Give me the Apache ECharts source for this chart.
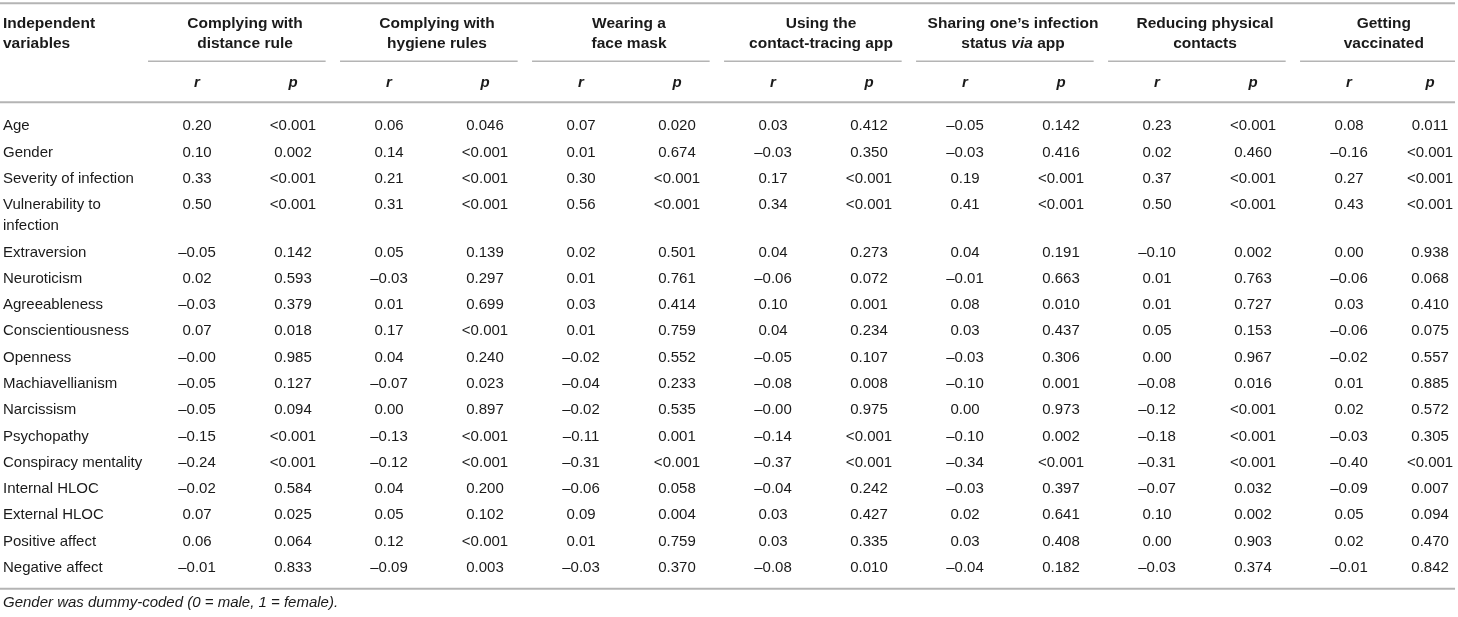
<!DOCTYPE html>
<html>
<head>
<meta charset="utf-8">
<title>Correlations table</title>
<script src="https://cdn.jsdelivr.net/npm/echarts@6/dist/echarts.min.js"></script>
<style>
  html, body { margin: 0; padding: 0; background: #fff; }
  #table { width: 1458px; height: 617px; }
</style>
</head>
<body>
<div id="table"></div>
<script>
// row labels (a "\n" means the label wraps to a second line)
const variables = [
    "Age", "Gender", "Severity of infection", "Vulnerability to\ninfection",
    "Extraversion", "Neuroticism", "Agreeableness", "Conscientiousness", "Openness",
    "Machiavellianism", "Narcissism", "Psychopathy", "Conspiracy mentality",
    "Internal HLOC", "External HLOC", "Positive affect", "Negative affect"
];
const outcomes = [
    "Complying with\ndistance rule", "Complying with\nhygiene rules", "Wearing a\nface mask",
    "Using the\ncontact-tracing app", "Sharing one\u2019s infection\nstatus {v|via} app",
    "Reducing physical\ncontacts", "Getting\nvaccinated"
];
const subHeads = ["r", "p"];
const firstHead = "Independent\nvariables";
const footnote = "Gender was dummy-coded (0 = male, 1 = female).";

// r and p for each outcome, one entry per variable
const distanceR = ["0.20", "0.10", "0.33", "0.50", "\u20130.05", "0.02", "\u20130.03", "0.07", "\u20130.00", "\u20130.05", "\u20130.05", "\u20130.15", "\u20130.24", "\u20130.02", "0.07", "0.06", "\u20130.01"];
const distanceP = ["<0.001", "0.002", "<0.001", "<0.001", "0.142", "0.593", "0.379", "0.018", "0.985", "0.127", "0.094", "<0.001", "<0.001", "0.584", "0.025", "0.064", "0.833"];
const hygieneR = ["0.06", "0.14", "0.21", "0.31", "0.05", "\u20130.03", "0.01", "0.17", "0.04", "\u20130.07", "0.00", "\u20130.13", "\u20130.12", "0.04", "0.05", "0.12", "\u20130.09"];
const hygieneP = ["0.046", "<0.001", "<0.001", "<0.001", "0.139", "0.297", "0.699", "<0.001", "0.240", "0.023", "0.897", "<0.001", "<0.001", "0.200", "0.102", "<0.001", "0.003"];
const maskR = ["0.07", "0.01", "0.30", "0.56", "0.02", "0.01", "0.03", "0.01", "\u20130.02", "\u20130.04", "\u20130.02", "\u20130.11", "\u20130.31", "\u20130.06", "0.09", "0.01", "\u20130.03"];
const maskP = ["0.020", "0.674", "<0.001", "<0.001", "0.501", "0.761", "0.414", "0.759", "0.552", "0.233", "0.535", "0.001", "<0.001", "0.058", "0.004", "0.759", "0.370"];
const appR = ["0.03", "\u20130.03", "0.17", "0.34", "0.04", "\u20130.06", "0.10", "0.04", "\u20130.05", "\u20130.08", "\u20130.00", "\u20130.14", "\u20130.37", "\u20130.04", "0.03", "0.03", "\u20130.08"];
const appP = ["0.412", "0.350", "<0.001", "<0.001", "0.273", "0.072", "0.001", "0.234", "0.107", "0.008", "0.975", "<0.001", "<0.001", "0.242", "0.427", "0.335", "0.010"];
const sharingR = ["\u20130.05", "\u20130.03", "0.19", "0.41", "0.04", "\u20130.01", "0.08", "0.03", "\u20130.03", "\u20130.10", "0.00", "\u20130.10", "\u20130.34", "\u20130.03", "0.02", "0.03", "\u20130.04"];
const sharingP = ["0.142", "0.416", "<0.001", "<0.001", "0.191", "0.663", "0.010", "0.437", "0.306", "0.001", "0.973", "0.002", "<0.001", "0.397", "0.641", "0.408", "0.182"];
const contactsR = ["0.23", "0.02", "0.37", "0.50", "\u20130.10", "0.01", "0.01", "0.05", "0.00", "\u20130.08", "\u20130.12", "\u20130.18", "\u20130.31", "\u20130.07", "0.10", "0.00", "\u20130.03"];
const contactsP = ["<0.001", "0.460", "<0.001", "<0.001", "0.002", "0.763", "0.727", "0.153", "0.967", "0.016", "<0.001", "<0.001", "<0.001", "0.032", "0.002", "0.903", "0.374"];
const vaccineR = ["0.08", "\u20130.16", "0.27", "0.43", "0.00", "\u20130.06", "0.03", "\u20130.06", "\u20130.02", "0.01", "0.02", "\u20130.03", "\u20130.40", "\u20130.09", "0.05", "0.02", "\u20130.01"];
const vaccineP = ["0.011", "<0.001", "<0.001", "<0.001", "0.938", "0.068", "0.410", "0.075", "0.557", "0.885", "0.572", "0.305", "<0.001", "0.007", "0.094", "0.470", "0.842"];

const valueColumns = [distanceR, distanceP, hygieneR, hygieneP, maskR, maskP, appR, appP,
    sharingR, sharingP, contactsR, contactsP, vaccineR, vaccineP];

// layout, in axis units: x = column index (label column at the left edge), y = body row units
const X_MIN = -1.052, X_MAX = 14.135, X_RULE_END = 14.104, X_LABEL = X_MIN + 0.031;
const Y_MIN = -4.8, Y_MAX = 18.67;
const EXTRA_LINE = 0.8;
const Y_TOP_RULE = -4.68, Y_HEAD = -3.5, Y_GROUP_RULE = -2.47, Y_SUB = -1.63, Y_HEAD_RULE = -0.91;

const FONT = '"Liberation Sans", Arial, Helvetica, sans-serif';
const TEXT_COLOR = "#1a1a1a";
const RULE_COLOR = "#b4b4b4";

const rowPos = [];
let pos = 0;
variables.forEach(v => {
    rowPos.push(pos);
    pos += 1 + (v.split("\n").length - 1) * EXTRA_LINE;
});
const lastRow = rowPos[rowPos.length - 1];

const styles = {
    head: { font: `bold 15.5px ${FONT}`, align: "center", verticalAlign: "middle", lineHeight: 20,
        rich: { v: { fontStyle: "italic", fontWeight: "bold", fontSize: 15.5, fontFamily: FONT, fill: TEXT_COLOR } } },
    headLeft: { font: `bold 15.5px ${FONT}`, align: "left", verticalAlign: "middle", lineHeight: 20 },
    sub: { font: `italic bold 15px ${FONT}`, align: "center", verticalAlign: "middle" },
    label: { font: `15px ${FONT}`, align: "left", verticalAlign: "top", lineHeight: 21 },
    value: { font: `15px ${FONT}`, align: "center", verticalAlign: "middle" },
    note: { font: `italic 15px ${FONT}`, align: "left", verticalAlign: "middle" }
};

// group rules under each outcome heading; the last one stops at the table edge
const groupSpans = outcomes.map((o, g) => [2 * g + 0.49, Math.min(2 * g + 2.34, X_RULE_END)]);
// column position of r and p in each group (a clipped group has a narrower p column)
const colPos = [];
groupSpans.forEach((s, g) => {
    colPos.push(2 * g + 1);
    colPos.push(Math.min(2 * g + 2, s[1] - 0.26));
});

// every text cell of the table
const cells = [];
cells.push({ col: X_LABEL, row: Y_HEAD, text: firstHead, kind: "headLeft" });
outcomes.forEach((o, g) => {
    const mid = (colPos[2 * g] + colPos[2 * g + 1]) / 2 - (colPos[2 * g + 1] < 2 * g + 2 ? 0.06 : 0);
    cells.push({ col: mid, row: Y_HEAD, text: o, kind: "head" });
    subHeads.forEach((s, k) => cells.push({ col: colPos[2 * g + k], row: Y_SUB, text: s, kind: "sub" }));
});
variables.forEach((v, i) => {
    cells.push({ col: X_LABEL, row: rowPos[i], text: v, kind: "label" });
    valueColumns.forEach((colValues, c) => cells.push({ col: colPos[c], row: rowPos[i], text: colValues[i], kind: "value" }));
});
cells.push({ col: X_LABEL, row: lastRow + 1.34, text: footnote, kind: "note" });

// horizontal rules: [from, to, row, width]
const rules = [
    [X_MIN, X_RULE_END, Y_TOP_RULE, 2],
    [X_MIN, X_RULE_END, Y_HEAD_RULE, 2],
    [X_MIN, X_RULE_END, lastRow + 0.8, 2]
];
groupSpans.forEach(s => rules.push([s[0], s[1], Y_GROUP_RULE, 1.4]));

const chart = echarts.init(document.getElementById("table"));
chart.setOption({
    animation: false,
    grid: { left: 0, right: 0, top: 0, bottom: 0 },
    xAxis: { type: "value", min: X_MIN, max: X_MAX, show: false },
    yAxis: { type: "value", min: Y_MIN, max: Y_MAX, inverse: true, show: false },
    series: [{
        type: "custom",
        clip: false,
        silent: true,
        data: rules.map(r => [r[0], r[2], r[1]]),
        renderItem: function (params, api) {
            const r = rules[params.dataIndex];
            const a = api.coord([r[0], r[2]]);
            const b = api.coord([r[1], r[2]]);
            return {
                type: "line",
                shape: { x1: a[0], y1: a[1], x2: b[0], y2: b[1] },
                style: { stroke: RULE_COLOR, lineWidth: r[3] }
            };
        }
    }, {
        type: "custom",
        clip: false,
        silent: true,
        data: cells.map(c => [c.col, c.row]),
        renderItem: function (params, api) {
            const c = cells[params.dataIndex];
            const st = styles[c.kind];
            const pt = api.coord([c.col, c.row]);
            const y = c.kind === "label" ? pt[1] - st.lineHeight / 2 : pt[1];
            return {
                type: "text",
                x: pt[0],
                y: y,
                style: Object.assign({ text: c.text, fill: TEXT_COLOR }, st)
            };
        }
    }]
});
</script>
</body>
</html>
